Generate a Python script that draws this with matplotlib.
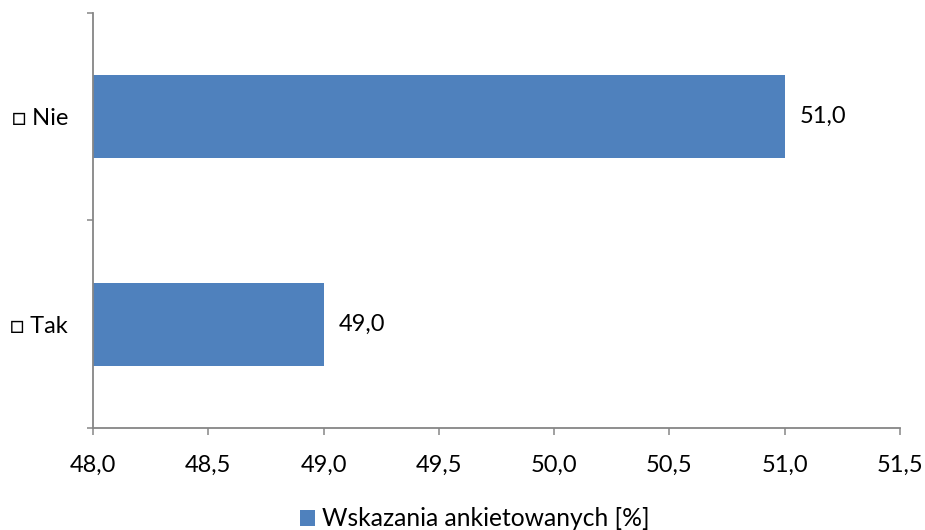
import matplotlib.pyplot as plt
from matplotlib.ticker import FixedLocator, FuncFormatter

plt.rcParams['font.family'] = ['Lato', 'DejaVu Sans']

# data
categories = ['\u25a1 Tak', '\u25a1 Nie']
values = [49.0, 51.0]
series_name = 'Wskazania ankietowanych [%]'
x_ticks = [48.0, 48.5, 49.0, 49.5, 50.0, 50.5, 51.0, 51.5]

fig = plt.figure(figsize=(9.25, 5.3), dpi=100)
ax = fig.add_axes([0.1005, 0.1925, 0.8725, 0.783])

grey = '#868686'
bars = ax.barh(range(len(categories)), values, height=0.4,
               color='#4F81BD', label=series_name)
# bars start at the left edge of the axis (48,0)
for b, v in zip(bars, values):
    b.set_x(x_ticks[0])
    b.set_width(v - x_ticks[0])

ax.set_xlim(x_ticks[0], x_ticks[-1])
ax.set_ylim(-0.5, len(categories) - 0.5)
ax.set_xticks(x_ticks)
ax.xaxis.set_major_formatter(FuncFormatter(lambda v, p: f'{v:.1f}'.replace('.', ',')))
ax.set_yticks(range(len(categories)))
ax.set_yticklabels(categories)
ax.yaxis.set_minor_locator(FixedLocator([-0.5, 0.5, 1.5]))

for s in ['top', 'right']:
    ax.spines[s].set_visible(False)
for s in ['left', 'bottom']:
    ax.spines[s].set_color(grey)
    ax.spines[s].set_linewidth(1.3)

ax.tick_params(axis='x', direction='out', length=5, width=1.1, color=grey,
               labelsize=17, pad=14)
ax.tick_params(axis='y', which='major', length=0, labelsize=17, pad=18)
ax.tick_params(axis='y', which='minor', direction='out', length=4.5,
               width=1.1, color=grey)

ax.bar_label(bars, labels=[f'{v:.1f}'.replace('.', ',') for v in values],
             padding=11, fontsize=17)

fig.legend(handles=[bars], labels=[series_name], loc='center',
           bbox_to_anchor=(475 / 925, 1 - 519 / 530), frameon=False,
           fontsize=17.7, handlelength=0.6, handleheight=0.6, handletextpad=0.3,
           borderaxespad=0)

fig.savefig('out.png', dpi=100)
